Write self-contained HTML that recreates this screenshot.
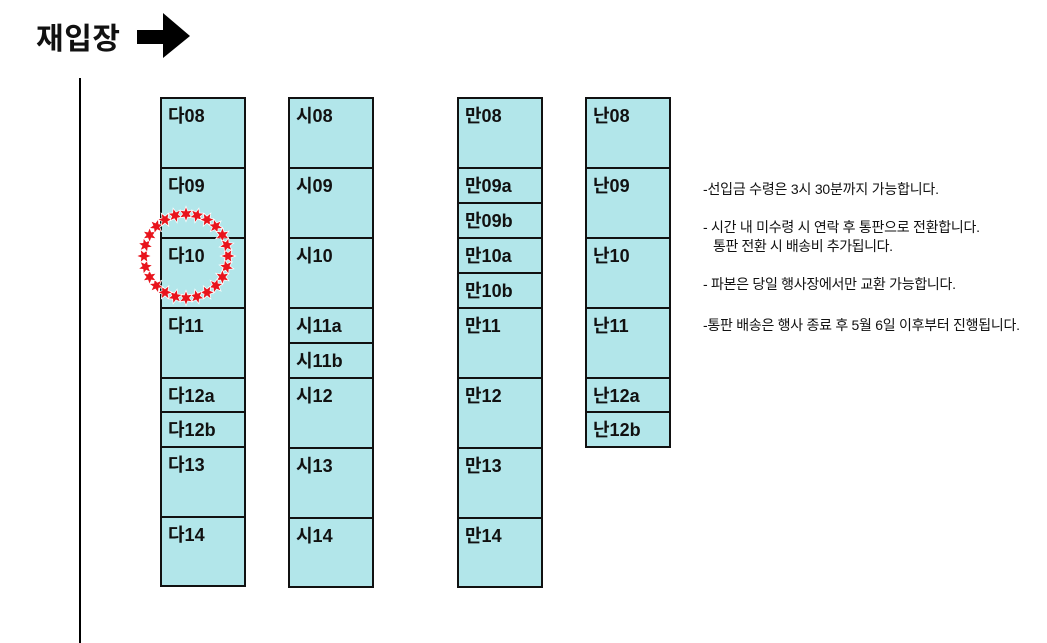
<!DOCTYPE html>
<html><head><meta charset="utf-8"><style>
html,body{margin:0;padding:0;background:#fff;width:1047px;height:643px;overflow:hidden}
svg{display:block}
.c{fill:#b2e6ea;stroke:#111;stroke-width:2}
.l{font-family:"Liberation Sans","Noto Sans CJK KR",sans-serif;font-size:18px;font-weight:bold;fill:#111}
.n{font-family:"Liberation Sans","Noto Sans CJK KR",sans-serif;font-size:14px;fill:#111}
</style></head><body>
<svg id="s" width="1047" height="643" xmlns="http://www.w3.org/2000/svg">
<text x="36" y="49" font-family="Liberation Sans,Noto Sans CJK KR,sans-serif" font-size="30" font-weight="bold" fill="#111" textLength="84">재입장</text>
<polygon points="137,30 163,30 163,13 190,36 163,58 163,44 137,44" fill="#000"/>
<line x1="80" y1="78" x2="80" y2="643" stroke="#000" stroke-width="2"/>
<g id="cells"></g>
<g id="stars"></g>
<text class="n" x="703" y="194" textLength="236">-선입금 수령은 3시 30분까지 가능합니다.</text>
<text class="n" x="703" y="232" textLength="277">- 시간 내 미수령 시 연락 후 통판으로 전환합니다.</text>
<text class="n" x="713" y="251" textLength="180">통판 전환 시 배송비 추가됩니다.</text>
<text class="n" x="703" y="289" textLength="253">- 파본은 당일 행사장에서만 교환 가능합니다.</text>
<text class="n" x="703" y="330" textLength="317">-통판 배송은 행사 종료 후 5월 6일 이후부터 진행됩니다.</text>
</svg>
<script>
var ns="http://www.w3.org/2000/svg";
function el(t,a,p,txt){var e=document.createElementNS(ns,t);for(var k in a)e.setAttribute(k,a[k]);if(txt)e.textContent=txt;p.appendChild(e);}
var g=document.getElementById('cells');
var cols=[
 [161,[["다08",70],["다09",70],["다10",70],["다11",70],["다12a",34],["다12b",35],["다13",70],["다14",69]]],
 [289,[["시08",70],["시09",70],["시10",70],["시11a",35],["시11b",35],["시12",70],["시13",70],["시14",69]]],
 [458,[["만08",70],["만09a",35],["만09b",35],["만10a",35],["만10b",35],["만11",70],["만12",70],["만13",70],["만14",69]]],
 [586,[["난08",70],["난09",70],["난10",70],["난11",70],["난12a",34],["난12b",35]]]
];
cols.forEach(function(c){var y=98;c[1].forEach(function(r){
 el('rect',{x:c[0],y:y,width:84,height:r[1],'class':'c'},g);
 el('text',{x:c[0]+7,y:y+24,'class':'l'},g,r[0]);
 y+=r[1];});});
var s=document.getElementById('stars');
var cx=186,cy=256,R=42,N=24;
for(var i=0;i<N;i++){var a=i/N*2*Math.PI;var x=cx+R*Math.cos(a),y=cy+R*Math.sin(a);
 var pts=[];for(var j=0;j<12;j++){var rr=j%2?3:6.5;var b=j/12*2*Math.PI+a;pts.push((x+rr*Math.cos(b)).toFixed(1)+','+(y+rr*Math.sin(b)).toFixed(1));}
 el('polygon',{points:pts.join(' '),fill:'#e8141c',stroke:'#fff','stroke-width':1.5,'paint-order':'stroke'},s);}
</script>
</body></html>
